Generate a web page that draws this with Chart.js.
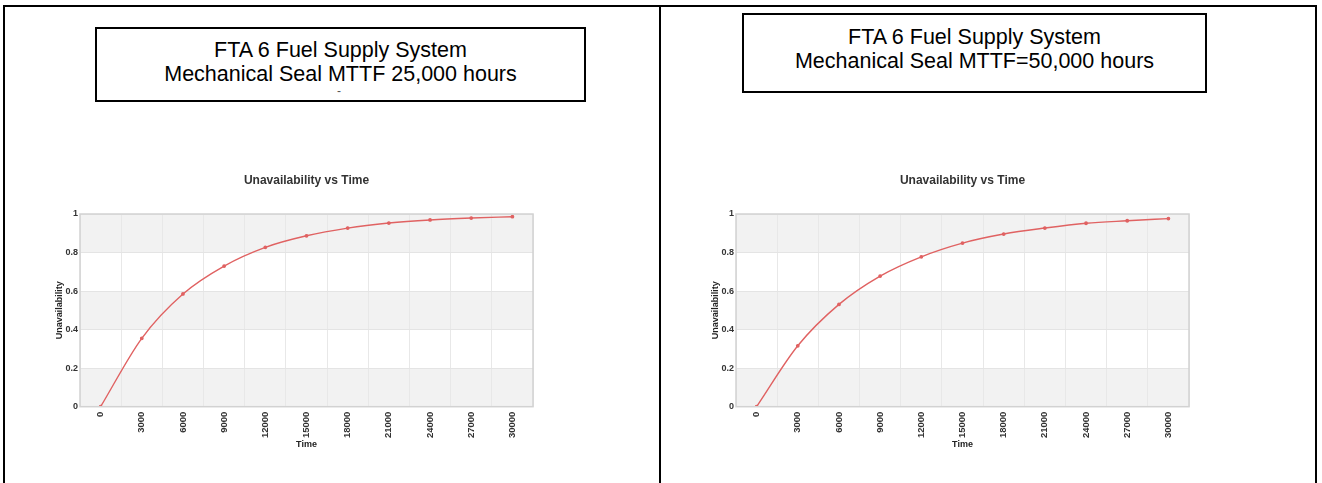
<!DOCTYPE html>
<html>
<head>
<meta charset="utf-8">
<script src="https://cdn.jsdelivr.net/npm/chart.js@4.4.1/dist/chart.umd.min.js"></script>
<style>
body { margin: 0; background: #fff; width: 1322px; height: 483px; overflow: hidden; position: relative; font-family: "Liberation Sans", Arial, sans-serif; }
.rule { position: absolute; background: #000; }
.box { position: absolute; border: 2px solid #000; box-sizing: border-box; text-align: center; font-size: 21.5px; line-height: 24.5px; color: #000; }
.chart { position: absolute; top: 160px; width: 553px; height: 300px; }
</style>
</head>
<body>
<div class="rule" style="left:3px;top:5px;width:1314px;height:2px"></div>
<div class="rule" style="left:3px;top:5px;width:2px;height:478px"></div>
<div class="rule" style="left:659px;top:5px;width:2px;height:478px"></div>
<div class="rule" style="left:1315px;top:5px;width:2px;height:478px"></div>

<div class="box" style="left:95px;top:27px;width:491px;height:75px;padding-top:8.5px">FTA 6 Fuel Supply System<br>Mechanical Seal MTTF 25,000 hours</div>
<div style="position:absolute;left:337px;top:84px;font-size:12px;color:#555">-</div>
<div class="box" style="left:742px;top:13px;width:465px;height:80px;padding-top:9.5px">FTA 6 Fuel Supply System<br>Mechanical Seal MTTF=50,000 hours</div>

<div class="chart" style="left:30px"><canvas id="chartLeft" width="553" height="300"></canvas></div>
<div class="chart" style="left:686px"><canvas id="chartRight" width="553" height="300"></canvas></div>

<script>
// temps (heures)
const timeLabels = ['0', '3000', '6000', '9000', '12000', '15000', '18000', '21000', '24000', '27000', '30000'];
const unavailMttf25k = [0, 0.355, 0.585, 0.73, 0.827, 0.887, 0.927, 0.953, 0.969, 0.979, 0.986];
const unavailMttf50k = [0, 0.316, 0.531, 0.678, 0.778, 0.849, 0.896, 0.927, 0.952, 0.965, 0.976];

const chartTitle = 'Unavailability vs Time';
const xTitle = 'Time';
const yTitle = 'Unavailability';

// bandes grises alternées + cadre du graphique
const bandPlugin = {
    id: 'bands',
    beforeDraw(chart) {
        const ctx = chart.ctx, a = chart.chartArea, y = chart.scales.y;
        ctx.save();
        ctx.fillStyle = '#f2f2f2';
        for (let v = 0; v < 1; v += 0.4) {
            const top = y.getPixelForValue(v + 0.2);
            const bot = y.getPixelForValue(v);
            ctx.fillRect(a.left, top, a.right - a.left, bot - top);
        }
        ctx.restore();
    },
    afterDraw(chart) {
        const ctx = chart.ctx, a = chart.chartArea;
        ctx.save();
        ctx.strokeStyle = '#d2d2d2';
        ctx.lineWidth = 1.5;
        ctx.strokeRect(a.left, a.top, a.right - a.left, a.bottom - a.top);
        ctx.restore();
    }
};

function makeChart(id, values) {
    var ctx = document.getElementById(id).getContext('2d');
    var boldFont = size => ({ family: 'Liberation Sans, Arial', size: size, weight: 'bold' });
    return new Chart(ctx, {
        type: 'line',
        data: {
            labels: timeLabels,
            datasets: [{
                data: values,
                borderColor: '#e06262',
                backgroundColor: '#e06262',
                borderWidth: 1.4,
                pointRadius: 1.2,
                cubicInterpolationMode: 'monotone',
                fill: false
            }]
        },
        options: {
            responsive: false,
            animation: false,
            plugins: {
                legend: { display: false },
                tooltip: { enabled: false },
                title: {
                    display: true,
                    text: chartTitle,
                    color: '#333',
                    font: boldFont(12),
                    padding: { top: 13.5, bottom: 26.1 }
                }
            },
            scales: {
                x: {
                    offset: true,
                    grid: { offset: true, color: '#e8e8e8', drawTicks: false },
                    border: { display: false },
                    ticks: {
                        autoSkip: false,
                        minRotation: 90,
                        maxRotation: 90,
                        padding: 5,
                        color: '#333',
                        font: boldFont(9.5)
                    },
                    title: {
                        display: true,
                        text: xTitle,
                        color: '#222',
                        font: boldFont(9),
                        padding: { top: 0, bottom: 9.6 }
                    },
                    afterFit: s => { s.height = 53.3; }
                },
                y: {
                    min: 0,
                    max: 1,
                    ticks: {
                        stepSize: 0.2,
                        padding: 2,
                        color: '#333',
                        font: boldFont(9),
                        callback: v => String(+v.toFixed(1))
                    },
                    grid: { color: '#e4e4e4', drawTicks: false },
                    border: { display: false },
                    title: {
                        display: true,
                        text: yTitle,
                        color: '#222',
                        font: boldFont(9),
                        padding: { top: 24.6, bottom: 0 }
                    },
                    afterFit: s => { s.width = 50; }
                },
                // axe vide à droite pour centrer le titre sur la zone du graphique
                yRight: {
                    position: 'right',
                    grid: { display: false },
                    ticks: { display: false },
                    border: { display: false },
                    afterFit: s => { s.width = 50; }
                }
            }
        },
        plugins: [bandPlugin]
    });
}

makeChart('chartLeft', unavailMttf25k);
makeChart('chartRight', unavailMttf50k);
</script>
</body>
</html>
